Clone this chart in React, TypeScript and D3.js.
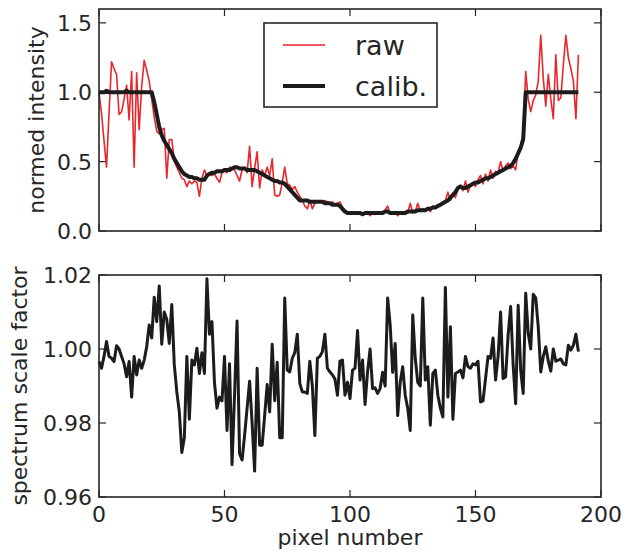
import React, { useEffect, useRef } from 'react'
import * as d3 from 'd3'

// raw and calibrated intensity per pixel (0..191)
const rawIntensity = [
  1.00, 0.85, 0.65, 0.46, 0.85, 1.22, 1.17, 1.13, 0.84, 0.86,
  0.95, 1.05, 0.80, 1.15, 0.46, 1.14, 0.73, 1.04, 1.23, 1.16,
  1.08, 0.95, 0.82, 0.72, 0.70, 0.73, 0.74, 0.38, 0.66, 0.66,
  0.50, 0.46, 0.42, 0.38, 0.37, 0.32, 0.36, 0.34, 0.36, 0.35,
  0.25, 0.38, 0.44, 0.40, 0.42, 0.40, 0.41, 0.38, 0.35, 0.42,
  0.43, 0.42, 0.46, 0.45, 0.44, 0.40, 0.36, 0.44, 0.46, 0.42,
  0.61, 0.32, 0.45, 0.57, 0.31, 0.44, 0.40, 0.46, 0.40, 0.52,
  0.26, 0.25, 0.26, 0.35, 0.46, 0.34, 0.33, 0.30, 0.32, 0.28,
  0.25, 0.22, 0.18, 0.16, 0.22, 0.16, 0.20, 0.21, 0.22, 0.21,
  0.22, 0.21, 0.20, 0.21, 0.19, 0.20, 0.21, 0.17, 0.14, 0.13,
  0.12, 0.14, 0.13, 0.12, 0.14, 0.12, 0.13, 0.14, 0.11, 0.13,
  0.12, 0.14, 0.13, 0.12, 0.15, 0.18, 0.12, 0.13, 0.14, 0.11,
  0.13, 0.12, 0.14, 0.13, 0.20, 0.13, 0.14, 0.20, 0.14, 0.16,
  0.15, 0.17, 0.14, 0.18, 0.17, 0.19, 0.18, 0.21, 0.22, 0.28,
  0.22, 0.27, 0.24, 0.31, 0.33, 0.29, 0.36, 0.28, 0.33, 0.35,
  0.32, 0.37, 0.40, 0.34, 0.41, 0.36, 0.44, 0.38, 0.43, 0.42,
  0.50, 0.43, 0.47, 0.49, 0.45, 0.47, 0.44, 0.58, 0.62, 0.70,
  1.15, 0.95, 0.86, 0.94, 0.98, 1.08, 1.41, 1.10, 0.90, 1.13,
  0.95, 0.81, 1.27, 0.94, 0.96, 1.20, 1.41, 1.25, 1.17, 1.08,
  0.81, 1.27,
]

const calibIntensity = [
  1.00, 1.00, 1.00, 1.01, 1.00, 1.00, 1.00, 1.00, 1.00, 1.00,
  1.00, 1.01, 1.00, 1.00, 1.00, 1.00, 1.00, 1.00, 1.00, 1.00,
  1.00, 1.00, 0.93, 0.84, 0.75, 0.69, 0.65, 0.62, 0.59, 0.56,
  0.52, 0.49, 0.46, 0.43, 0.41, 0.40, 0.39, 0.39, 0.38, 0.38,
  0.37, 0.37, 0.37, 0.40, 0.41, 0.42, 0.42, 0.43, 0.43, 0.43,
  0.44, 0.44, 0.44, 0.45, 0.46, 0.46, 0.45, 0.45, 0.45, 0.44,
  0.44, 0.44, 0.44, 0.43, 0.42, 0.41, 0.40, 0.39, 0.38, 0.37,
  0.36, 0.36, 0.35, 0.35, 0.34, 0.32, 0.30, 0.28, 0.26, 0.24,
  0.22, 0.22, 0.22, 0.22, 0.21, 0.21, 0.21, 0.21, 0.21, 0.21,
  0.20, 0.20, 0.20, 0.19, 0.19, 0.19, 0.18, 0.16, 0.14, 0.13,
  0.13, 0.13, 0.13, 0.13, 0.13, 0.12, 0.13, 0.13, 0.13, 0.13,
  0.13, 0.13, 0.13, 0.13, 0.14, 0.14, 0.13, 0.13, 0.13, 0.13,
  0.13, 0.13, 0.13, 0.14, 0.14, 0.14, 0.14, 0.15, 0.15, 0.15,
  0.15, 0.16, 0.16, 0.17, 0.17, 0.18, 0.19, 0.20, 0.21, 0.22,
  0.24, 0.26, 0.28, 0.31, 0.32, 0.31, 0.31, 0.32, 0.33, 0.34,
  0.35, 0.35, 0.36, 0.37, 0.38, 0.38, 0.39, 0.40, 0.41, 0.42,
  0.43, 0.44, 0.45, 0.46, 0.47, 0.49, 0.52, 0.56, 0.60, 0.66,
  1.00, 1.00, 1.00, 1.00, 1.00, 1.00, 1.00, 1.00, 1.00, 1.00,
  1.00, 1.00, 1.00, 1.00, 1.00, 1.00, 1.00, 1.00, 1.00, 1.00,
  1.00, 1.00,
]

const scaleFactor = [
  0.9966, 0.9948, 0.998, 1.002, 0.998, 0.9975, 0.9966, 1.0009, 1.000, 0.998,
  0.996, 0.9925, 0.9966, 0.987, 0.998, 0.993, 0.997, 0.9948, 0.997, 1.0006,
  1.0065, 1.003, 1.014, 1.0074, 1.017, 1.0013, 1.010, 1.008, 1.0015, 1.012,
  0.9957, 0.9884, 0.983, 0.972, 0.976, 0.998, 0.981, 0.997, 0.9957, 1.0002,
  0.9934, 0.999, 0.9934, 1.019, 1.004, 1.0074, 0.991, 0.984, 0.987, 0.986,
  0.998, 0.978, 0.996, 0.9687, 0.9875, 1.0076, 0.9717, 0.970, 0.9766, 0.984,
  0.9913, 0.980, 0.967, 0.9948, 0.974, 0.974, 0.982, 0.9904, 0.983, 1.0013,
  0.986, 0.9964, 0.976, 0.976, 1.0138, 0.9943, 0.9938, 0.9975, 0.999, 1.004,
  0.9907, 0.9884, 0.9884, 0.988, 0.9967, 0.990, 0.9766, 0.9975, 0.998, 0.9993,
  1.004, 0.9948, 0.9938, 0.993, 0.9919, 0.9875, 0.9967, 0.997, 0.9875, 0.991,
  0.9866, 0.9943, 0.9948, 1.005, 0.9916, 0.997, 0.985, 0.9938, 1.000, 0.9893,
  0.9895, 0.988, 0.9893, 0.9937, 0.990, 1.0138, 1.0065, 0.9937, 1.0015, 0.982,
  0.991, 0.9952, 0.9875, 0.984, 0.978, 1.0092, 0.9975, 0.991, 0.990, 1.0138,
  0.9916, 0.9952, 0.9794, 0.9934, 0.9943, 0.9875, 0.984, 0.9816, 1.0166, 0.987,
  1.006, 0.981, 0.9934, 0.9938, 0.9943, 0.9922, 0.998, 0.9952, 0.9948, 0.996,
  0.9957, 0.9967, 0.9857, 0.986, 0.992, 0.998, 0.9975, 1.003, 0.9916, 0.998,
  1.010, 0.992, 0.9925, 1.0038, 1.0115, 0.9957, 0.9852, 1.0118, 0.9943, 0.988,
  1.0151, 1.0043, 1.000, 1.0148, 1.0138, 1.006, 0.9938, 0.998, 1.0006, 0.9967,
  0.994, 1.000, 0.9967, 0.997, 0.9973, 0.996, 0.9957, 1.001, 0.9997, 1.001,
  1.004, 0.9993,
]

const xTicks = [0, 50, 100, 150, 200]
const topTicks = [0.0, 0.5, 1.0, 1.5]
const bottomTicks = [0.96, 0.98, 1.0, 1.02]
const legendLabels = ['raw', 'calib.']

const INK = '#262626'
const FONT = 'DejaVu Sans'

export default function App() {
  const ref = useRef<SVGSVGElement>(null)

  useEffect(() => {
    const svg = d3.select(ref.current)
    svg.selectAll('*').remove()

    const left = 99, right = 601
    const x = d3.scaleLinear().domain([0, 200]).range([left, right])
    const yTop = d3.scaleLinear().domain([0, 1.6]).range([231, 9])
    const yBot = d3.scaleLinear().domain([0.96, 1.02]).range([497, 275])

    const panel = (y: d3.ScaleLinear<number, number>, ticks: number[], fmt: string, showX: boolean) => {
      const [y0, y1] = y.range()
      const g = svg.append('g')
      // inward ticks on all sides
      xTicks.forEach(t => {
        g.append('line').attr('x1', x(t)).attr('x2', x(t)).attr('y1', y0).attr('y2', y0 - 7)
          .attr('stroke', INK).attr('stroke-width', 1.2)
        g.append('line').attr('x1', x(t)).attr('x2', x(t)).attr('y1', y1).attr('y2', y1 + 7)
          .attr('stroke', INK).attr('stroke-width', 1.2)
        if (showX) {
          g.append('text').attr('x', x(t)).attr('y', 522).attr('text-anchor', 'middle')
            .style('font-family', FONT).style('font-size', '22px').attr('fill', INK).text(t)
        }
      })
      ticks.forEach(t => {
        g.append('line').attr('x1', left).attr('x2', left + 7).attr('y1', y(t)).attr('y2', y(t))
          .attr('stroke', INK).attr('stroke-width', 1.2)
        g.append('line').attr('x1', right).attr('x2', right - 7).attr('y1', y(t)).attr('y2', y(t))
          .attr('stroke', INK).attr('stroke-width', 1.2)
        g.append('text').attr('x', 92).attr('y', y(t) + 8).attr('text-anchor', 'end')
          .style('font-family', FONT).style('font-size', '22px').attr('fill', INK).text(d3.format(fmt)(t))
      })
      return g
    }

    const gTop = panel(yTop, topTicks, '.1f', false)
    const gBot = panel(yBot, bottomTicks, '.2f', true)

    const lineTop = (vals: number[]) =>
      d3.line<number>().x((_, i) => x(i)).y(d => yTop(d))(vals)

    gTop.append('path').attr('d', lineTop(rawIntensity)).attr('fill', 'none')
      .attr('stroke', '#e8262b').attr('stroke-width', 1.6).attr('stroke-linejoin', 'round')
    gTop.append('path').attr('d', lineTop(calibIntensity)).attr('fill', 'none')
      .attr('stroke', '#1c1c1c').attr('stroke-width', 4).attr('stroke-linejoin', 'round')

    const lineBot = d3.line<number>().x((_, i) => x(i)).y(d => yBot(d))
    gBot.append('path').attr('d', lineBot(scaleFactor)).attr('fill', 'none')
      .attr('stroke', '#1c1c1c').attr('stroke-width', 3).attr('stroke-linejoin', 'round')

    // frames
    ;[yTop, yBot].forEach(y => {
      const [b, t] = y.range()
      svg.append('rect').attr('x', left).attr('y', t).attr('width', right - left).attr('height', b - t)
        .attr('fill', 'none').attr('stroke', INK).attr('stroke-width', 1.6)
    })

    // legend
    const lg = svg.append('g')
    lg.append('rect').attr('x', 264).attr('y', 23).attr('width', 173).attr('height', 84)
      .attr('fill', 'white').attr('stroke', INK).attr('stroke-width', 1.6)
    const legendStyle = [
      { color: '#e8262b', w: 1.6, cy: 45 },
      { color: '#1c1c1c', w: 4, cy: 86 },
    ]
    legendLabels.forEach((lab, i) => {
      const s = legendStyle[i]
      lg.append('line').attr('x1', 283).attr('x2', 325).attr('y1', s.cy).attr('y2', s.cy)
        .attr('stroke', s.color).attr('stroke-width', s.w)
      lg.append('text').attr('x', 355).attr('y', s.cy + 10)
        .style('font-family', FONT).style('font-size', '27px').attr('fill', INK).text(lab)
    })

    // axis titles
    svg.append('text').attr('transform', 'translate(44,120) rotate(-90)').attr('text-anchor', 'middle')
      .style('font-family', FONT).style('font-size', '22px').attr('fill', INK).text('normed intensity')
    svg.append('text').attr('transform', 'translate(27,386) rotate(-90)').attr('text-anchor', 'middle')
      .style('font-family', FONT).style('font-size', '22px').attr('fill', INK).text('spectrum scale factor')
    svg.append('text').attr('x', 350).attr('y', 545).attr('text-anchor', 'middle')
      .style('font-family', FONT).style('font-size', '22px').attr('fill', INK).text('pixel number')
  }, [])

  return (
    <svg ref={ref} width={627} height={556}
      style={{ position: 'absolute', left: 0, top: 0, background: 'white' }} />
  )
}
